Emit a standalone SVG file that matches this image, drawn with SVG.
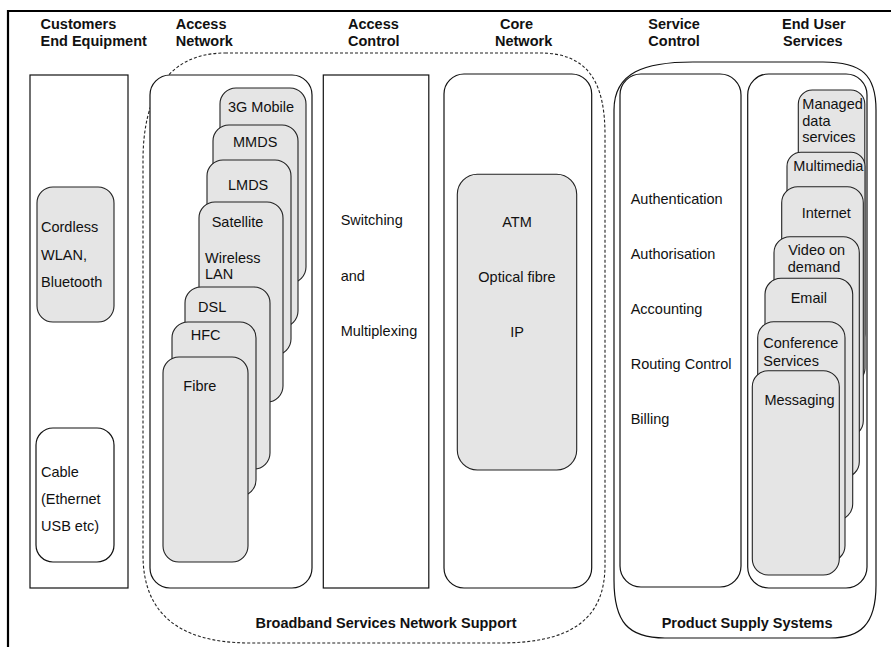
<svg xmlns="http://www.w3.org/2000/svg" width="891" height="647" viewBox="0 0 891 647">
<style>
text{font-family:"Liberation Sans",Arial,sans-serif;font-size:14.5px;fill:#111}
.h{font-weight:bold}
.box{fill:#fff;stroke:#111;stroke-width:1.2}
.g{fill:#e5e5e5;stroke:#222;stroke-width:1.1}
.dash{fill:none;stroke:#222;stroke-width:1.1;stroke-dasharray:3 2}
.frame{fill:none;stroke:#000;stroke-width:2.2}
.m{text-anchor:middle}
</style>
<rect width="891" height="647" fill="#fff"/>
<path class="frame" d="M891,11 H8 V647"/>

<g id="headers">
<text class="h" x="40.5" y="29">Customers</text>
<text class="h" x="40.5" y="46">End Equipment</text>
<text class="h" x="175.7" y="29">Access</text>
<text class="h" x="175.7" y="46">Network</text>
<text class="h" x="348" y="29">Access</text>
<text class="h" x="348" y="46">Control</text>
<text class="h" x="500" y="29">Core</text>
<text class="h" x="495" y="46">Network</text>
<text class="h" x="648.3" y="29">Service</text>
<text class="h" x="648.3" y="46">Control</text>
<text class="h" x="782" y="29">End User</text>
<text class="h" x="783" y="46">Services</text>
</g>

<g id="broadband">
<path class="dash" d="M225,53 H540 C590,53 605,85 605,135 V565 C605,620 570,643 500,643 H250 C175,643 143,610 143,555 V160 C143,100 165,53 225,53 Z"/>
<text class="h m" x="386" y="628">Broadband Services Network Support</text>
</g>

<g id="product-supply">
<path class="box" style="fill:none" d="M614,110 C614,72 645,62 693,62 H823 C862,62 876,75 876,110 V585 C876,625 860,638 830,638 H665 C628,638 614,622 614,580 Z"/>
<text class="h" x="661.7" y="628">Product Supply Systems</text>
</g>

<g id="customers-end-equipment">
<rect class="box" x="30" y="75" width="98" height="513"/>
<g id="cordless">
<rect class="g" x="37" y="187" width="77" height="135" rx="16"/>
<text x="41" y="232">Cordless</text>
<text x="41" y="259.5">WLAN,</text>
<text x="41" y="287">Bluetooth</text>
</g>
<g id="cable">
<rect class="box" x="36" y="428" width="78" height="134" rx="17"/>
<text x="41" y="477">Cable</text>
<text x="41" y="504">(Ethernet</text>
<text x="41" y="531">USB etc)</text>
</g>
</g>

<g id="access-network">
<rect class="box" x="150" y="75" width="162" height="513" rx="20"/>
<g id="an-3g"><rect class="g" x="220" y="88" width="86" height="195" rx="16"/><text x="228" y="111.5">3G Mobile</text></g>
<g id="an-mmds"><rect class="g" x="213" y="125" width="85" height="202" rx="16"/><text x="233" y="146.7">MMDS</text></g>
<g id="an-lmds"><rect class="g" x="207" y="160" width="84" height="195" rx="16"/><text x="228" y="190">LMDS</text></g>
<g id="an-satellite"><rect class="g" x="199" y="202" width="84" height="200" rx="16"/><text x="211.7" y="226.7">Satellite</text><text x="205" y="263.3">Wireless</text><text x="205" y="279">LAN</text></g>
<g id="an-dsl"><rect class="g" x="185" y="287" width="85" height="182" rx="16"/><text x="198" y="312.3">DSL</text></g>
<g id="an-hfc"><rect class="g" x="172" y="322" width="84" height="174" rx="16"/><text x="190.7" y="340">HFC</text></g>
<g id="an-fibre"><rect class="g" x="163" y="357" width="85" height="205" rx="16"/><text x="183.3" y="390.7">Fibre</text></g>
</g>

<g id="access-control">
<rect class="box" x="323.3" y="75" width="105.5" height="513"/>
<text x="340.7" y="225">Switching</text>
<text x="340.7" y="280.5">and</text>
<text x="340.7" y="335.5">Multiplexing</text>
</g>

<g id="core-network">
<rect class="box" x="444" y="74" width="147.7" height="514" rx="20"/>
<g id="core-box">
<rect class="g" x="457.3" y="174.3" width="119.4" height="295.7" rx="20"/>
<text class="m" x="517" y="226.7">ATM</text>
<text class="m" x="517" y="281.7">Optical fibre</text>
<text class="m" x="517" y="336.7">IP</text>
</g>
</g>

<g id="service-control">
<rect class="box" x="620" y="74" width="121" height="513" rx="21"/>
<text x="630.7" y="204">Authentication</text>
<text x="630.7" y="259">Authorisation</text>
<text x="630.7" y="313.5">Accounting</text>
<text x="630.7" y="369">Routing Control</text>
<text x="630.7" y="424">Billing</text>
</g>

<g id="end-user-services">
<rect class="box" x="747.7" y="74" width="119.3" height="514" rx="21"/>
<g id="eus-managed"><rect class="g" x="798.3" y="90" width="66.5" height="258" rx="14"/><text x="802.3" y="108.5">Managed</text><text x="802.3" y="125.5">data</text><text x="802.3" y="142">services</text></g>
<g id="eus-multimedia"><rect class="g" x="787" y="152.3" width="78" height="230" rx="14"/><text x="793.3" y="171">Multimedia</text></g>
<g id="eus-internet"><rect class="g" x="781.7" y="186.7" width="81.6" height="250" rx="16"/><text class="m" x="826.3" y="218.3">Internet</text></g>
<g id="eus-video"><rect class="g" x="774" y="236.7" width="85.3" height="241" rx="16"/><text class="m" x="816.7" y="255">Video on</text><text class="m" x="814" y="271.7">demand</text></g>
<g id="eus-email"><rect class="g" x="765" y="278.3" width="87.7" height="241.7" rx="16"/><text class="m" x="808.8" y="302.7">Email</text></g>
<g id="eus-conference"><rect class="g" x="757.7" y="321.7" width="87.3" height="240" rx="16"/><text x="763.3" y="348.3">Conference</text><text x="763.3" y="365.7">Services</text></g>
<g id="eus-messaging"><rect class="g" x="752.3" y="370.7" width="87" height="204.3" rx="16"/><text class="m" x="799.5" y="405">Messaging</text></g>
</g>

<g id="connectors"/>
</svg>
